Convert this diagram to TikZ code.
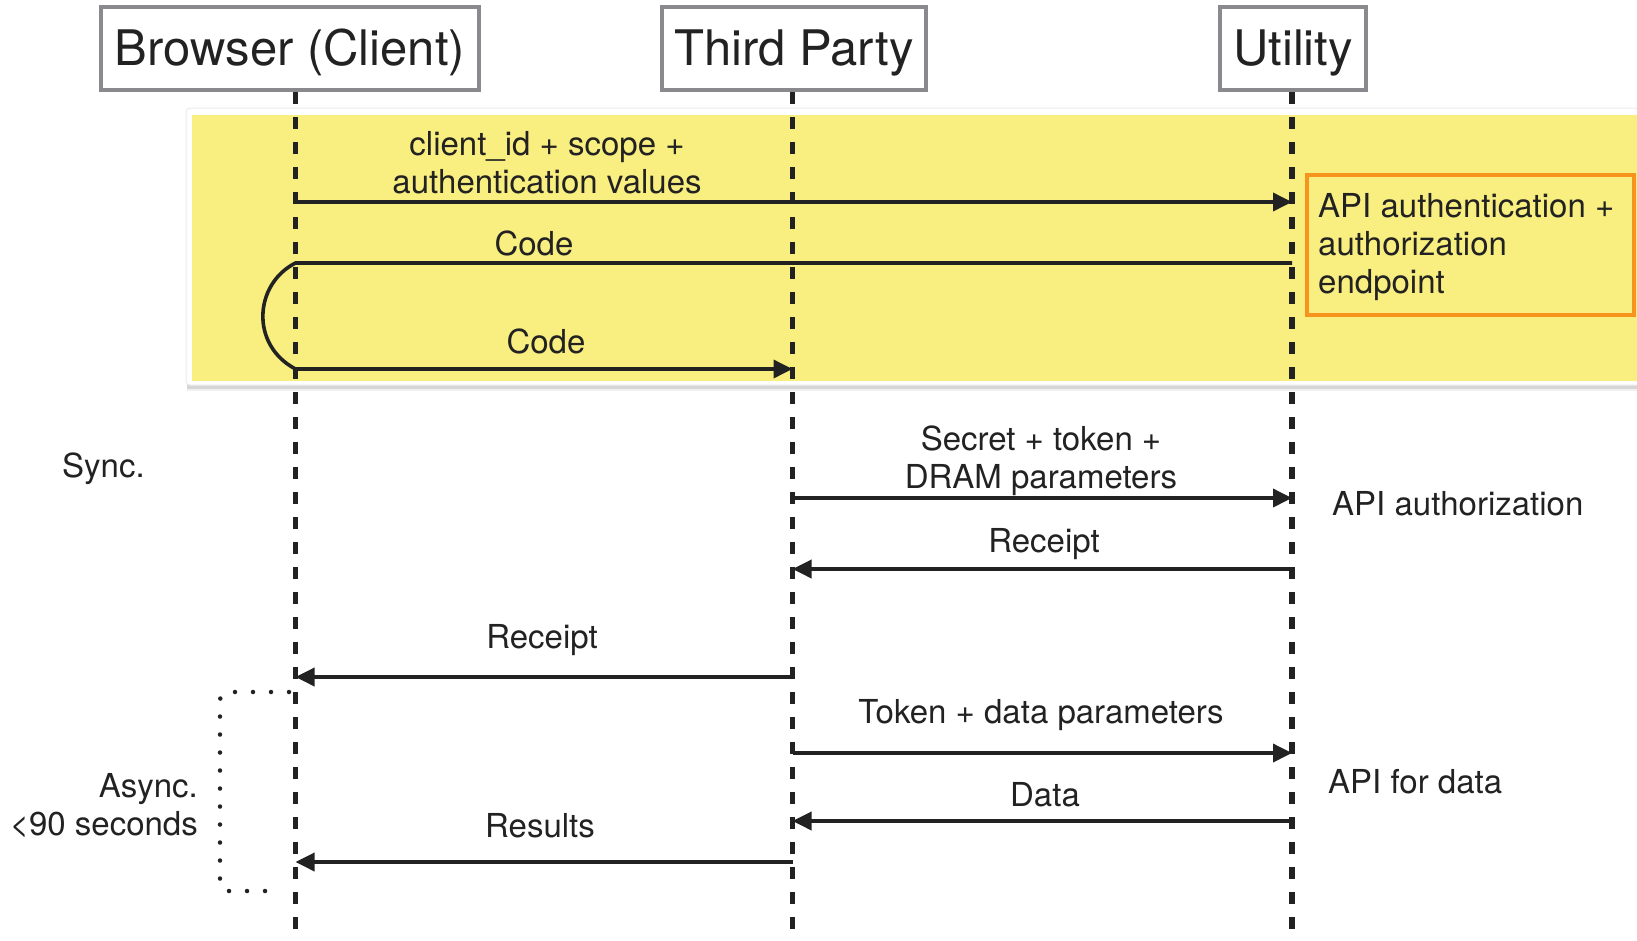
\documentclass[tikz,border=0pt]{standalone}
\usepackage{fontspec}
\setmainfont{TeX Gyre Heros}
\usetikzlibrary{arrows.meta}
\definecolor{ink}{HTML}{222222}
\definecolor{hdrgray}{HTML}{8A8A8E}
\definecolor{note}{HTML}{F9EE80}
\definecolor{orng}{HTML}{F7941D}
\newcommand\twolinesC[2]{\begin{tabular}[b]{@{}c@{}}#1\\#2\end{tabular}}
\begin{document}
\begin{tikzpicture}[x=1pt,y=-1pt,
  hdr/.style={draw=hdrgray, line width=3.5pt, fill=white, inner sep=0pt,
    font=\fontsize{49}{56}\selectfont, text=ink, text height=40pt, text depth=7pt,
    minimum height=83pt},
  life/.style={draw=ink, line width=5.5pt, dash pattern=on 12pt off 13pt},
  msg/.style={draw=ink, line width=3.6pt},
  arr/.style={msg, -{Triangle[length=19pt,width=18pt]}},
  lbl/.style={font=\fontsize{33}{38}\selectfont, text=ink, inner sep=0pt, anchor=base},
  dots/.style={draw=ink, line width=4.5pt, line cap=round, dash pattern=on 0pt off 18pt, rounded corners=8pt}
]
\useasboundingbox (0,0) rectangle (1637,940);

% highlighted block with soft shadow
\begin{scope}
\clip (0,0) rectangle (1637,940);
\fill[black!6] (187,112) rectangle (1660,391);
\fill[black!16] (187,112) rectangle (1660,388.5);
\filldraw[fill=white, draw=black!8, line width=1pt, rounded corners=4pt] (186,108) rectangle (1660,385);
\fill[note] (192,115) rectangle (1637,381);
\end{scope}

% participants
\node[hdr, minimum width=378pt] (browser) at (290,48.5) {Browser (Client)};
\node[hdr, minimum width=264pt] (third) at (794,48.5) {Third Party};
\node[hdr, minimum width=146pt] (utility) at (1293,48.5) {Utility};

\coordinate (B) at (295.5,940);
\coordinate (T) at (792.5,940);
\coordinate (U) at (1292,940);

\draw[life] (browser.south -| B) -- (B);
\draw[life] (third.south -| T) -- (T);
\draw[life] (utility.south -| U) -- (U);

% authentication phase
\node[lbl] (l1) at (547,193) {\twolinesC{client\_id + scope +}{authentication values}};
\draw[arr] (B |- 0,202) -- (U |- 0,202);
\node[lbl] (l2) at (534,255) {Code};
\node[lbl] (l3) at (546,353) {Code};
\draw[arr] (U |- 0,263) -- (B |- 0,263) .. controls (254,284) and (250,345) .. (B |- 0,369) -- (T |- 0,369);

\node[draw=orng, line width=3.5pt, minimum width=327pt, minimum height=140pt, anchor=north west, inner sep=0pt] (apibox) at (1305,173) {};
\node[lbl, anchor=base west] (apitext) at (1318,217) {\begin{tabular}[t]{@{}l@{}}API authentication +\\authorization\\endpoint\end{tabular}};

% sync phase
\node[lbl, anchor=base west] (sync) at (62,477) {Sync.};
\node[lbl] (l4) at (1041,488) {\twolinesC{Secret + token +}{DRAM parameters}};
\draw[arr] (T |- 0,498) -- (U |- 0,498);
\node[lbl, anchor=base west] (apiauth) at (1332,515) {API authorization};
\node[lbl] (l5) at (1044,552) {Receipt};
\draw[arr] (U |- 0,569) -- (T |- 0,569);
\node[lbl] (l6) at (542,648) {Receipt};
\draw[arr] (T |- 0,677) -- (B |- 0,677);

% async phase
\node[lbl] (l7) at (1041,723) {Token + data parameters};
\draw[arr] (T |- 0,753) -- (U |- 0,753);
\node[lbl, anchor=base west] (apidata) at (1328,793) {API for data};
\node[lbl] (l8) at (1045,806) {Data};
\draw[arr] (U |- 0,821) -- (T |- 0,821);
\node[lbl] (l9) at (540,837) {Results};
\draw[arr] (T |- 0,862) -- (B |- 0,862);

\node[lbl, anchor=base east] (async) at (198,835) {\begin{tabular}[b]{@{}r@{}}Async.\\<90 seconds\end{tabular}};
\coordinate (brTop) at (289,692);
\coordinate (brBot) at (268,891);
\draw[dots] (brTop) -- (220,692) -- (220,891) -- (brBot);
\end{tikzpicture}
\end{document}
